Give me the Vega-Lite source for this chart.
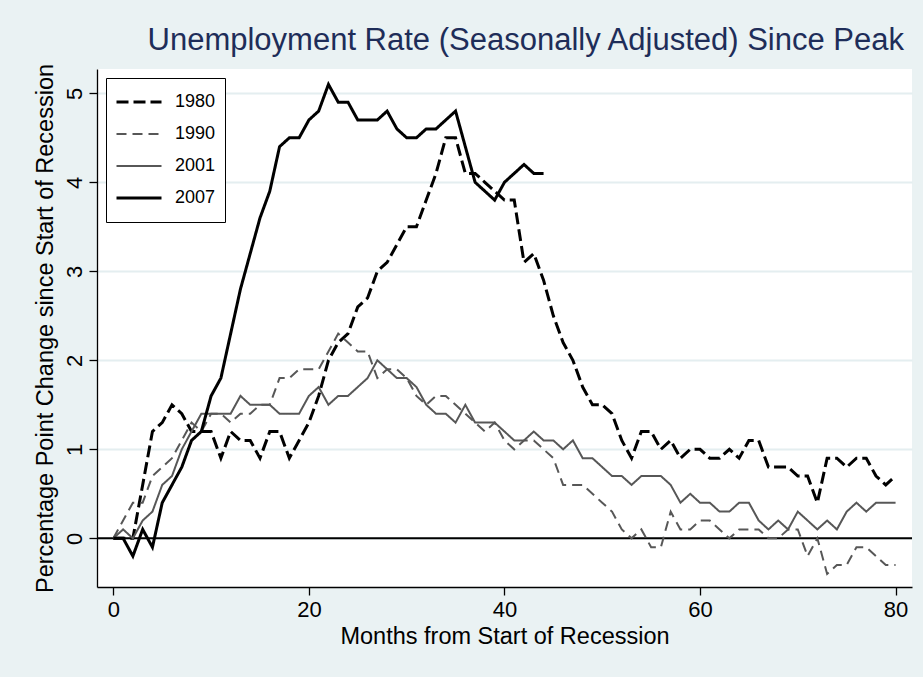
{
  "$schema": "https://vega.github.io/schema/vega-lite/v6.json",
  "autosize": {"type": "none"},
  "width": 815,
  "height": 518,
  "padding": {"left": 97, "top": 69, "right": 11, "bottom": 90},
  "background": "#EAF2F3",
  "view": {"fill": "white", "stroke": null},
  "title": {
    "text": "Unemployment Rate (Seasonally Adjusted) Since Peak",
    "anchor": "end",
    "dx": -9,
    "offset": 6,
    "fontSize": 31,
    "font": "Liberation Sans",
    "fontWeight": "normal",
    "color": "#1E2D59"
  },
  "config": {
    "axis": {
      "domainColor": "black",
      "domainWidth": 1.3,
      "tickColor": "black",
      "tickWidth": 1.3,
      "tickSize": 8,
      "labelFont": "Liberation Sans",
      "labelFontSize": 22,
      "labelColor": "black",
      "titleFont": "Liberation Sans",
      "titleFontSize": 23.5,
      "titleFontWeight": "normal",
      "titleColor": "black"
    }
  },
  "datasets": {
    "ur": [
      {"m":0,"s":"1980","v":0},{"m":1,"s":"1980","v":0},{"m":2,"s":"1980","v":0},{"m":3,"s":"1980","v":0.6},{"m":4,"s":"1980","v":1.2},{"m":5,"s":"1980","v":1.3},{"m":6,"s":"1980","v":1.5},{"m":7,"s":"1980","v":1.4},{"m":8,"s":"1980","v":1.2},{"m":9,"s":"1980","v":1.2},{"m":10,"s":"1980","v":1.2},{"m":11,"s":"1980","v":0.9},{"m":12,"s":"1980","v":1.2},{"m":13,"s":"1980","v":1.1},{"m":14,"s":"1980","v":1.1},{"m":15,"s":"1980","v":0.9},{"m":16,"s":"1980","v":1.2},{"m":17,"s":"1980","v":1.2},{"m":18,"s":"1980","v":0.9},{"m":19,"s":"1980","v":1.1},{"m":20,"s":"1980","v":1.3},{"m":21,"s":"1980","v":1.6},{"m":22,"s":"1980","v":2.0},{"m":23,"s":"1980","v":2.2},{"m":24,"s":"1980","v":2.3},{"m":25,"s":"1980","v":2.6},{"m":26,"s":"1980","v":2.7},{"m":27,"s":"1980","v":3.0},{"m":28,"s":"1980","v":3.1},{"m":29,"s":"1980","v":3.3},{"m":30,"s":"1980","v":3.5},{"m":31,"s":"1980","v":3.5},{"m":32,"s":"1980","v":3.8},{"m":33,"s":"1980","v":4.1},{"m":34,"s":"1980","v":4.5},{"m":35,"s":"1980","v":4.5},{"m":36,"s":"1980","v":4.1},{"m":37,"s":"1980","v":4.1},{"m":38,"s":"1980","v":4.0},{"m":39,"s":"1980","v":3.9},{"m":40,"s":"1980","v":3.8},{"m":41,"s":"1980","v":3.8},{"m":42,"s":"1980","v":3.1},{"m":43,"s":"1980","v":3.2},{"m":44,"s":"1980","v":2.9},{"m":45,"s":"1980","v":2.5},{"m":46,"s":"1980","v":2.2},{"m":47,"s":"1980","v":2.0},{"m":48,"s":"1980","v":1.7},{"m":49,"s":"1980","v":1.5},{"m":50,"s":"1980","v":1.5},{"m":51,"s":"1980","v":1.4},{"m":52,"s":"1980","v":1.1},{"m":53,"s":"1980","v":0.9},{"m":54,"s":"1980","v":1.2},{"m":55,"s":"1980","v":1.2},{"m":56,"s":"1980","v":1.0},{"m":57,"s":"1980","v":1.1},{"m":58,"s":"1980","v":0.9},{"m":59,"s":"1980","v":1.0},{"m":60,"s":"1980","v":1.0},{"m":61,"s":"1980","v":0.9},{"m":62,"s":"1980","v":0.9},{"m":63,"s":"1980","v":1.0},{"m":64,"s":"1980","v":0.9},{"m":65,"s":"1980","v":1.1},{"m":66,"s":"1980","v":1.1},{"m":67,"s":"1980","v":0.8},{"m":68,"s":"1980","v":0.8},{"m":69,"s":"1980","v":0.8},{"m":70,"s":"1980","v":0.7},{"m":71,"s":"1980","v":0.7},{"m":72,"s":"1980","v":0.4},{"m":73,"s":"1980","v":0.9},{"m":74,"s":"1980","v":0.9},{"m":75,"s":"1980","v":0.8},{"m":76,"s":"1980","v":0.9},{"m":77,"s":"1980","v":0.9},{"m":78,"s":"1980","v":0.7},{"m":79,"s":"1980","v":0.6},{"m":80,"s":"1980","v":0.7},
      {"m":0,"s":"1990","v":0},{"m":1,"s":"1990","v":0.2},{"m":2,"s":"1990","v":0.4},{"m":3,"s":"1990","v":0.4},{"m":4,"s":"1990","v":0.7},{"m":5,"s":"1990","v":0.8},{"m":6,"s":"1990","v":0.9},{"m":7,"s":"1990","v":1.1},{"m":8,"s":"1990","v":1.3},{"m":9,"s":"1990","v":1.2},{"m":10,"s":"1990","v":1.4},{"m":11,"s":"1990","v":1.4},{"m":12,"s":"1990","v":1.3},{"m":13,"s":"1990","v":1.4},{"m":14,"s":"1990","v":1.4},{"m":15,"s":"1990","v":1.5},{"m":16,"s":"1990","v":1.5},{"m":17,"s":"1990","v":1.8},{"m":18,"s":"1990","v":1.8},{"m":19,"s":"1990","v":1.9},{"m":20,"s":"1990","v":1.9},{"m":21,"s":"1990","v":1.9},{"m":22,"s":"1990","v":2.1},{"m":23,"s":"1990","v":2.3},{"m":24,"s":"1990","v":2.2},{"m":25,"s":"1990","v":2.1},{"m":26,"s":"1990","v":2.1},{"m":27,"s":"1990","v":1.8},{"m":28,"s":"1990","v":1.9},{"m":29,"s":"1990","v":1.9},{"m":30,"s":"1990","v":1.8},{"m":31,"s":"1990","v":1.6},{"m":32,"s":"1990","v":1.5},{"m":33,"s":"1990","v":1.6},{"m":34,"s":"1990","v":1.6},{"m":35,"s":"1990","v":1.5},{"m":36,"s":"1990","v":1.4},{"m":37,"s":"1990","v":1.3},{"m":38,"s":"1990","v":1.2},{"m":39,"s":"1990","v":1.3},{"m":40,"s":"1990","v":1.1},{"m":41,"s":"1990","v":1.0},{"m":42,"s":"1990","v":1.1},{"m":43,"s":"1990","v":1.1},{"m":44,"s":"1990","v":1.0},{"m":45,"s":"1990","v":0.9},{"m":46,"s":"1990","v":0.6},{"m":47,"s":"1990","v":0.6},{"m":48,"s":"1990","v":0.6},{"m":49,"s":"1990","v":0.5},{"m":50,"s":"1990","v":0.4},{"m":51,"s":"1990","v":0.3},{"m":52,"s":"1990","v":0.1},{"m":53,"s":"1990","v":0.0},{"m":54,"s":"1990","v":0.1},{"m":55,"s":"1990","v":-0.1},{"m":56,"s":"1990","v":-0.1},{"m":57,"s":"1990","v":0.3},{"m":58,"s":"1990","v":0.1},{"m":59,"s":"1990","v":0.1},{"m":60,"s":"1990","v":0.2},{"m":61,"s":"1990","v":0.2},{"m":62,"s":"1990","v":0.1},{"m":63,"s":"1990","v":0.0},{"m":64,"s":"1990","v":0.1},{"m":65,"s":"1990","v":0.1},{"m":66,"s":"1990","v":0.1},{"m":67,"s":"1990","v":0.0},{"m":68,"s":"1990","v":0.0},{"m":69,"s":"1990","v":0.1},{"m":70,"s":"1990","v":0.1},{"m":71,"s":"1990","v":-0.2},{"m":72,"s":"1990","v":0.0},{"m":73,"s":"1990","v":-0.4},{"m":74,"s":"1990","v":-0.3},{"m":75,"s":"1990","v":-0.3},{"m":76,"s":"1990","v":-0.1},{"m":77,"s":"1990","v":-0.1},{"m":78,"s":"1990","v":-0.2},{"m":79,"s":"1990","v":-0.3},{"m":80,"s":"1990","v":-0.3},
      {"m":0,"s":"2001","v":0},{"m":1,"s":"2001","v":0.1},{"m":2,"s":"2001","v":0.0},{"m":3,"s":"2001","v":0.2},{"m":4,"s":"2001","v":0.3},{"m":5,"s":"2001","v":0.6},{"m":6,"s":"2001","v":0.7},{"m":7,"s":"2001","v":1.0},{"m":8,"s":"2001","v":1.2},{"m":9,"s":"2001","v":1.4},{"m":10,"s":"2001","v":1.4},{"m":11,"s":"2001","v":1.4},{"m":12,"s":"2001","v":1.4},{"m":13,"s":"2001","v":1.6},{"m":14,"s":"2001","v":1.5},{"m":15,"s":"2001","v":1.5},{"m":16,"s":"2001","v":1.5},{"m":17,"s":"2001","v":1.4},{"m":18,"s":"2001","v":1.4},{"m":19,"s":"2001","v":1.4},{"m":20,"s":"2001","v":1.6},{"m":21,"s":"2001","v":1.7},{"m":22,"s":"2001","v":1.5},{"m":23,"s":"2001","v":1.6},{"m":24,"s":"2001","v":1.6},{"m":25,"s":"2001","v":1.7},{"m":26,"s":"2001","v":1.8},{"m":27,"s":"2001","v":2.0},{"m":28,"s":"2001","v":1.9},{"m":29,"s":"2001","v":1.8},{"m":30,"s":"2001","v":1.8},{"m":31,"s":"2001","v":1.7},{"m":32,"s":"2001","v":1.5},{"m":33,"s":"2001","v":1.4},{"m":34,"s":"2001","v":1.4},{"m":35,"s":"2001","v":1.3},{"m":36,"s":"2001","v":1.5},{"m":37,"s":"2001","v":1.3},{"m":38,"s":"2001","v":1.3},{"m":39,"s":"2001","v":1.3},{"m":40,"s":"2001","v":1.2},{"m":41,"s":"2001","v":1.1},{"m":42,"s":"2001","v":1.1},{"m":43,"s":"2001","v":1.2},{"m":44,"s":"2001","v":1.1},{"m":45,"s":"2001","v":1.1},{"m":46,"s":"2001","v":1.0},{"m":47,"s":"2001","v":1.1},{"m":48,"s":"2001","v":0.9},{"m":49,"s":"2001","v":0.9},{"m":50,"s":"2001","v":0.8},{"m":51,"s":"2001","v":0.7},{"m":52,"s":"2001","v":0.7},{"m":53,"s":"2001","v":0.6},{"m":54,"s":"2001","v":0.7},{"m":55,"s":"2001","v":0.7},{"m":56,"s":"2001","v":0.7},{"m":57,"s":"2001","v":0.6},{"m":58,"s":"2001","v":0.4},{"m":59,"s":"2001","v":0.5},{"m":60,"s":"2001","v":0.4},{"m":61,"s":"2001","v":0.4},{"m":62,"s":"2001","v":0.3},{"m":63,"s":"2001","v":0.3},{"m":64,"s":"2001","v":0.4},{"m":65,"s":"2001","v":0.4},{"m":66,"s":"2001","v":0.2},{"m":67,"s":"2001","v":0.1},{"m":68,"s":"2001","v":0.2},{"m":69,"s":"2001","v":0.1},{"m":70,"s":"2001","v":0.3},{"m":71,"s":"2001","v":0.2},{"m":72,"s":"2001","v":0.1},{"m":73,"s":"2001","v":0.2},{"m":74,"s":"2001","v":0.1},{"m":75,"s":"2001","v":0.3},{"m":76,"s":"2001","v":0.4},{"m":77,"s":"2001","v":0.3},{"m":78,"s":"2001","v":0.4},{"m":79,"s":"2001","v":0.4},{"m":80,"s":"2001","v":0.4},
      {"m":0,"s":"2007","v":0},{"m":1,"s":"2007","v":0},{"m":2,"s":"2007","v":-0.2},{"m":3,"s":"2007","v":0.1},{"m":4,"s":"2007","v":-0.1},{"m":5,"s":"2007","v":0.4},{"m":6,"s":"2007","v":0.6},{"m":7,"s":"2007","v":0.8},{"m":8,"s":"2007","v":1.1},{"m":9,"s":"2007","v":1.2},{"m":10,"s":"2007","v":1.6},{"m":11,"s":"2007","v":1.8},{"m":12,"s":"2007","v":2.3},{"m":13,"s":"2007","v":2.8},{"m":14,"s":"2007","v":3.2},{"m":15,"s":"2007","v":3.6},{"m":16,"s":"2007","v":3.9},{"m":17,"s":"2007","v":4.4},{"m":18,"s":"2007","v":4.5},{"m":19,"s":"2007","v":4.5},{"m":20,"s":"2007","v":4.7},{"m":21,"s":"2007","v":4.8},{"m":22,"s":"2007","v":5.1},{"m":23,"s":"2007","v":4.9},{"m":24,"s":"2007","v":4.9},{"m":25,"s":"2007","v":4.7},{"m":26,"s":"2007","v":4.7},{"m":27,"s":"2007","v":4.7},{"m":28,"s":"2007","v":4.8},{"m":29,"s":"2007","v":4.6},{"m":30,"s":"2007","v":4.5},{"m":31,"s":"2007","v":4.5},{"m":32,"s":"2007","v":4.6},{"m":33,"s":"2007","v":4.6},{"m":34,"s":"2007","v":4.7},{"m":35,"s":"2007","v":4.8},{"m":36,"s":"2007","v":4.4},{"m":37,"s":"2007","v":4.0},{"m":38,"s":"2007","v":3.9},{"m":39,"s":"2007","v":3.8},{"m":40,"s":"2007","v":4.0},{"m":41,"s":"2007","v":4.1},{"m":42,"s":"2007","v":4.2},{"m":43,"s":"2007","v":4.1},{"m":44,"s":"2007","v":4.1}
    ],
    "zero": [{"v": 0}]
  },
  "layer": [
    {
      "data": {"name": "zero"},
      "mark": {"type": "rule", "color": "black", "strokeWidth": 2},
      "encoding": {
        "y": {"field": "v", "type": "quantitative"}
      }
    },
    {
      "data": {"name": "ur"},
      "mark": {"type": "line", "strokeJoin": "miter", "strokeCap": "butt"},
      "encoding": {
        "x": {
          "field": "m", "type": "quantitative",
          "scale": {"domain": [-1.67, 81.68], "nice": false, "zero": false},
          "axis": {"values": [0, 20, 40, 60, 80], "format": "d", "grid": false, "title": "Months from Start of Recession", "labelPadding": 4, "titlePadding": 4}
        },
        "y": {
          "field": "v", "type": "quantitative",
          "scale": {"domain": [-0.547, 5.273], "nice": false, "zero": false},
          "axis": {"values": [0, 1, 2, 3, 4, 5], "format": "d", "grid": true, "gridColor": "#E4EEF0", "gridWidth": 2, "labelAngle": 270, "labelPadding": 3, "title": "Percentage Point Change since Start of Recession", "titlePadding": 6}
        },
        "color": {
          "field": "s", "type": "nominal",
          "scale": {"domain": ["1980", "1990", "2001", "2007"], "range": ["black", "#575757", "#575757", "black"]},
          "legend": {
            "title": null, "orient": "none", "legendX": 9, "legendY": 9,
            "symbolType": "stroke", "symbolSize": 2025, "clipHeight": 30, "rowPadding": 2,
            "labelFont": "Liberation Sans", "labelFontSize": 18, "labelColor": "black", "labelOffset": 12,
            "padding": 9, "strokeColor": "black", "fillColor": "white"
          }
        },
        "strokeDash": {
          "field": "s", "type": "nominal",
          "scale": {"domain": ["1980", "1990", "2001", "2007"], "range": [[12, 5], [10, 6], [1, 0], [1, 0]]}
        },
        "strokeWidth": {
          "field": "s", "type": "nominal",
          "scale": {"type": "ordinal", "domain": ["1980", "1990", "2001", "2007"], "range": [3, 2, 2, 3]}
        }
      }
    }
  ]
}
